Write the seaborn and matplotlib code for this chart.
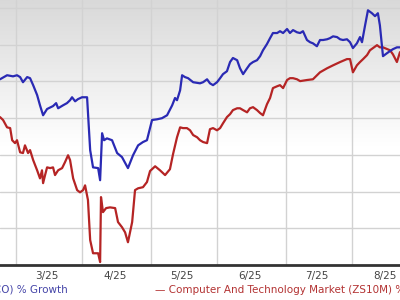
import numpy as np
import pandas as pd
import matplotlib
matplotlib.use("Agg")
import matplotlib.pyplot as plt
import seaborn as sns

# days since 2025-03-01, % growth
stock_days = [-21.3,-18.1,-15.4,-13.6,-12.2,-10.9,-9.0,-7.7,-6.3,-4.5,-3.2,-1.8,0,2.7,4.1,5.0,7.2,9.0,10.4,11.3,12.7,14.0,15.8,18.1,
              19.5,20.8,23.1,24.0,24.9,25.8,27.1,29.4,31.7,33.9,36.6,38.9,41.2,43.4,45.2,47.5,49.8,52.0,54.3,56.6,57.9,58.8,60.2,61.1,
              62.4,63.8,66.1,69.2,70.6,72.4,73.7,75.1,76.9,78.3,79.6,81.4,82.8,84.1,86.0,87.3,88.7,90.5,91.8,93.2,95.0,96.4,97.7,99.5,
              100.9,102.2,104.1,105.4,106.8,108.6,109.9,111.3,113.1,114.5,115.8,117.6,119.0,120.3,122.1,123.5,124.9,126.7,128.0,129.4,
              131.2,132.6,133.9,135.7,137.1,138.4,140.2,141.6,142.5,143.9,145.2,147.0,148.4,149.7,150.6,152.0,153.8,155.2,156.5,158.3,159.7]
stock_vals = [10.6,11.7,11.4,11.7,11.2,9.8,11.2,10.9,9.0,6.3,3.5,0.8,2.5,3.3,4.1,2.7,3.5,4.1,4.9,5.7,4.6,5.2,5.7,5.7,
              -8.7,-13.4,-13.6,-16.9,-4.1,-6.0,-5.5,-6.0,-9.5,-10.6,-13.6,-10.1,-7.4,-6.5,-6.0,-0.5,-0.3,0.0,0.8,3.5,5.5,4.9,7.6,11.7,
              11.2,10.9,9.8,9.5,9.8,10.6,9.5,9.0,9.8,10.9,12.0,12.8,15.3,16.4,15.8,13.6,12.0,13.6,14.7,15.3,15.8,16.9,18.5,20.2,
              21.8,23.2,23.2,23.7,23.2,24.3,23.2,24.0,23.4,23.2,23.7,21.3,20.7,20.4,19.6,21.3,21.3,21.5,21.8,22.3,
              22.1,21.5,21.3,21.5,20.7,19.1,20.4,22.1,20.7,25.3,29.4,28.6,27.8,28.6,25.3,16.9,17.7,18.3,18.8,19.3,19.3]

market_days = [-21.3,-19.9,-18.1,-16.7,-15.8,-14.5,-13.6,-12.2,-10.9,-10.0,-8.6,-7.7,-6.3,-4.5,-3.2,-2.3,-1.8,-0.9,0,1.4,2.7,3.6,5.0,
               6.8,8.1,9.5,10.4,11.8,13.6,14.9,16.3,17.2,18.5,19.5,20.8,23.1,24.0,24.4,25.3,26.7,28.5,30.8,32.1,33.9,35.3,36.6,38.5,
               39.8,41.2,43.4,45.2,46.6,48.9,51.1,53.4,55.6,57.0,58.8,60.2,61.5,63.3,64.7,66.1,67.9,69.2,70.6,72.4,73.7,75.1,76.9,
               78.3,79.6,81.4,82.8,84.1,86.0,87.3,88.7,90.5,91.8,93.2,95.0,96.4,97.7,99.5,100.9,102.2,104.1,105.4,106.8,108.6,109.9,
               111.3,113.1,114.5,117.6,120.3,123.5,126.7,129.4,132.6,135.7,137.1,138.0,138.4,140.2,141.6,143.0,144.8,146.1,149.3,
               150.6,152.0,155.2,156.5,158.3,159.7]
market_vals = [0.3,-0.5,-2.5,-2.7,-6.0,-6.8,-6.0,-9.3,-9.5,-7.4,-9.5,-8.7,-11.4,-14.2,-16.4,-14.2,-17.7,-15.5,-13.4,-13.6,-13.4,-15.5,-14.2,
               -13.6,-12.0,-10.1,-11.4,-16.4,-19.6,-20.2,-19.6,-18.3,-22.3,-33.2,-36.8,-36.8,-39.2,-21.5,-25.6,-24.5,-24.3,-24.5,-28.3,-29.7,-31.1,-33.8,-28.3,
               -19.6,-19.1,-18.8,-17.4,-14.4,-13.1,-14.2,-15.5,-13.9,-9.8,-5.2,-2.5,-2.7,-2.7,-3.3,-4.6,-5.2,-6.0,-6.5,-6.8,-3.0,-2.7,-3.3,
               -2.7,-1.4,0.3,1.1,2.2,2.7,2.7,2.2,1.6,2.7,3.0,2.2,1.4,0.8,3.8,5.5,8.2,8.7,9.0,8.2,10.4,10.9,
               10.9,10.6,10.1,10.4,10.6,12.5,13.6,14.4,15.3,16.1,16.1,13.6,12.5,14.4,15.3,16.1,17.2,18.5,19.9,
               19.3,19.3,18.5,17.4,15.3,18.0]

tick_days = [0, 31, 61, 92, 122, 153]
tick_labels = ["3/25", "4/25", "5/25", "6/25", "7/25", "8/25"]
grid_days = [-14, 16, 47, 77, 108, 138, 169]
grid_vals = [-30, -20, -10, 0, 10, 20, 30]

stock_label = "— Cisco Systems, Inc. (CSCO) % Growth"
market_label = "— Computer And Technology Market (ZS10M) % Growth"

sns.set_theme(style="white")
plt.rcParams['font.family'] = ['DejaVu Sans']

fig = plt.figure(figsize=(4, 3), dpi=100)
ax = fig.add_axes([0, 35/300, 1, 265/300])

x0, x1 = -21.3, 159.7
y0, y1 = -40.0, 32.2
ax.set_xlim(x0, x1)
ax.set_ylim(y0, y1)

# gradient background (gray at top fading to white)
grad = np.linspace(0, 1, 256).reshape(-1, 1)
cmap = matplotlib.colors.LinearSegmentedColormap.from_list(
    "bg", [(0.0, "#ffffff"), (0.45, "#ffffff"), (1.0, "#d9d9d9")])
ax.imshow(grad, extent=[x0, x1, y0, y1], origin="lower", aspect="auto",
          cmap=cmap, zorder=0)

for g in grid_days:
    ax.axvline(g, color="#d2d2d2", lw=1.0, zorder=1)
for g in grid_vals:
    ax.axhline(g, color="#d2d2d2", lw=1.0, zorder=1)

s_df = pd.DataFrame({"day": stock_days, "val": stock_vals})
m_df = pd.DataFrame({"day": market_days, "val": market_vals})
sns.lineplot(data=m_df, x="day", y="val", ax=ax, color="#b52424", lw=1.6,
             sort=False, estimator=None, zorder=3)
sns.lineplot(data=s_df, x="day", y="val", ax=ax, color="#2a2ab4", lw=1.6,
             sort=False, estimator=None, zorder=4)

ax.set_xticks(tick_days)
ax.set_xticklabels(tick_labels, fontsize=7.5, color="#444444")
ax.set_yticks([])
ax.tick_params(axis="x", length=0, pad=4)
ax.set_xlabel("")
ax.set_ylabel("")
for sp in ["top", "left", "right"]:
    ax.spines[sp].set_visible(False)
ax.spines["bottom"].set_color("#333333")
ax.spines["bottom"].set_linewidth(2.0)

fig.text(68/400, 1 - 290/300, stock_label, ha="right", va="center",
         fontsize=7.5, color="#4545a8")
fig.text(155/400, 1 - 290/300, market_label, ha="left", va="center",
         fontsize=7.5, color="#b33333")

fig.savefig("out.png", dpi=100)
